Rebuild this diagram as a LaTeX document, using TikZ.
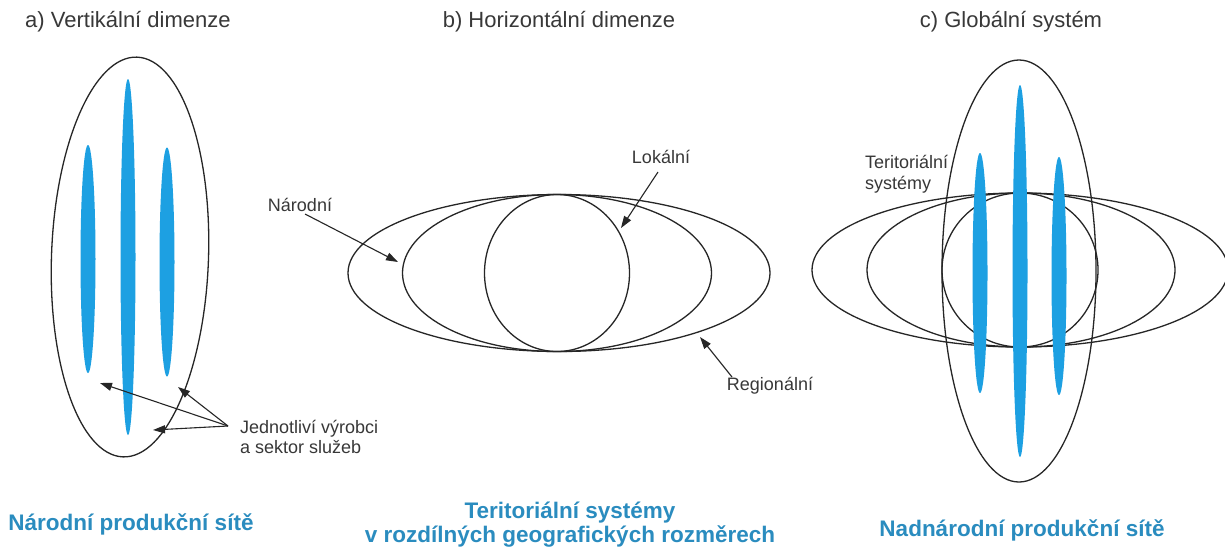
\documentclass[tikz,border=0pt]{standalone}
\usepackage{fontspec}
\setmainfont{Liberation Sans}
\usetikzlibrary{shapes.geometric,arrows.meta}
\definecolor{bluefill}{HTML}{1DA0E2}
\definecolor{captionblue}{HTML}{2A8CBF}
\definecolor{txt}{HTML}{383838}
\tikzset{
  ring/.style={ellipse, draw=black!85, line width=1.3pt, inner sep=0pt, outer sep=0pt},
  blade/.style={ellipse, fill=bluefill, inner sep=0pt, outer sep=0pt, minimum width=15pt},
  ttl/.style={text=txt, font=\fontsize{22}{26}\selectfont, inner sep=0pt},
  lbl/.style={text=txt, font=\fontsize{18}{20.5}\selectfont, inner sep=0pt, align=left},
  captxt/.style={text=captionblue, font=\fontsize{22.5}{24}\selectfont\bfseries, inner sep=0pt, align=center},
  pointer/.style={draw=black!85, line width=1.1pt, -{Triangle[length=12pt,width=8pt]}}
}
\begin{document}
\begin{tikzpicture}[x=1pt,y=-1pt]
\useasboundingbox[fill=white] (0,0) rectangle (1225,550);

% ---------- panel a ----------
\node[ttl, anchor=west] (ta) at (25,22) {a) Vertikální dimenze};
\node[ring, minimum width=157pt, minimum height=400pt, rotate=-2] (oa) at (130,257) {};
\node[blade, minimum height=356pt] (ba2) at (128,257) {};
\node[blade, minimum height=228pt] (ba1) at (88,259) {};
\node[blade, minimum height=229pt] (ba3) at (167,262) {};
\node[lbl, anchor=west] (lj) at (240,437) {Jednotliví výrobci\\a sektor služeb};
\coordinate (sj) at (228,426);
\coordinate (tj1) at (100,383);
\coordinate (tj2) at (178,387);
\coordinate (tj3) at (153,430);
\draw[pointer] (sj) -- (tj1);
\draw[pointer] (sj) -- (tj2);
\draw[pointer] (sj) -- (tj3);
\node[captxt] (ca) at (131,524) {Národní produkční sítě};

% ---------- panel b ----------
\node[ttl] (tb) at (559,22) {b) Horizontální dimenze};
\node[ring, minimum width=422pt, minimum height=157pt] (ob) at (559,273) {};
\node[ring, minimum width=309pt, minimum height=157pt] (mb) at (557,273) {};
\node[ring, minimum width=145pt, minimum height=157pt] (cb) at (557,273) {};
\node[lbl] (ln) at (300,205) {Národní};
\node[lbl] (ll) at (661,157) {Lokální};
\node[lbl] (lr) at (770,386) {Regionální};
\coordinate (sn) at (305,214);
\coordinate (tn) at (398,262);
\coordinate (sl) at (658,172);
\coordinate (tl) at (621,228);
\coordinate (sr) at (732,377);
\coordinate (tr) at (700,337);
\draw[pointer] (sn) -- (tn);
\draw[pointer] (sl) -- (tl);
\draw[pointer] (sr) -- (tr);
\node[captxt] (cb1) at (570,525) {Teritoriální systémy\\v rozdílných geografických rozměrech};

% ---------- panel c ----------
\node[ttl] (tc) at (1011,22) {c) Globální systém};
\node[ring, minimum width=416pt, minimum height=154pt] (oc) at (1020,270) {};
\node[ring, minimum width=308pt, minimum height=154pt] (mc) at (1021,270) {};
\node[ring, minimum width=156pt, minimum height=154pt] (cc) at (1020,270) {};
\node[ring, minimum width=154pt, minimum height=422pt] (vc) at (1019,271) {};
\node[blade, minimum height=372pt] (bc2) at (1020,271) {};
\node[blade, minimum height=240pt] (bc1) at (980,273) {};
\node[blade, minimum height=238pt] (bc3) at (1059,276) {};
\node[lbl, anchor=west] (lt) at (865,174) {Teritoriální\\systémy};
\node[captxt] (cc1) at (1022,530) {Nadnárodní produkční sítě};
\end{tikzpicture}
\end{document}
